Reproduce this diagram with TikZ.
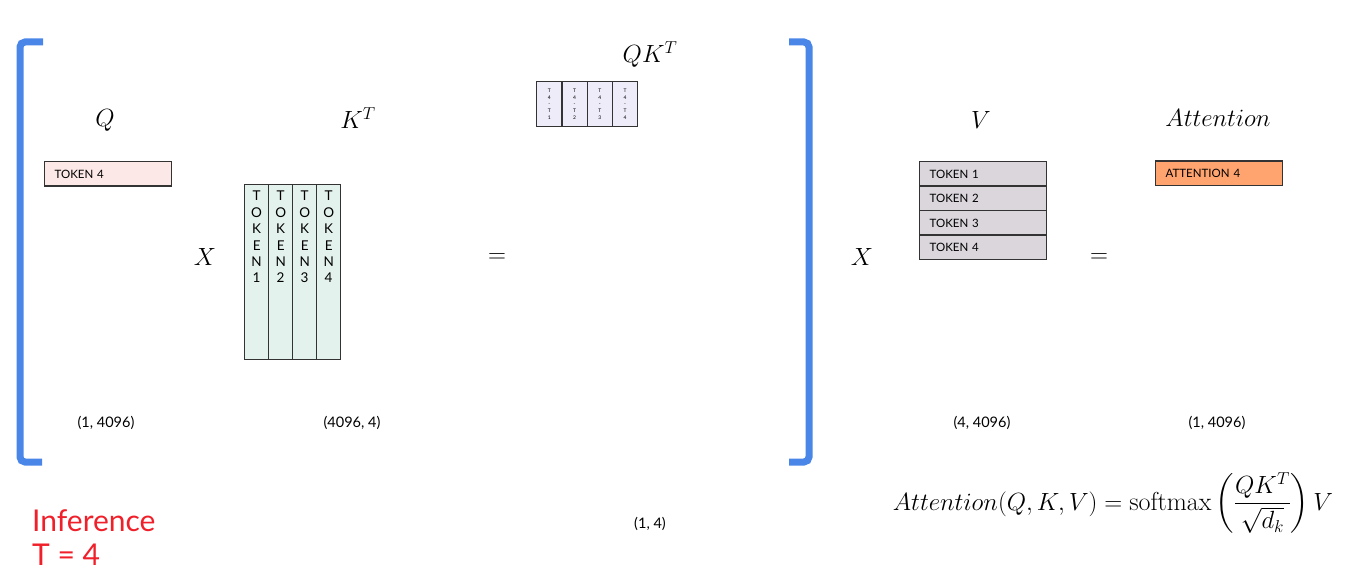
\documentclass[tikz,border=0pt]{standalone}
\usepackage{amsmath}
\usepackage{fontspec}
\setsansfont{Lato}
\usepackage{xcolor}
\usetikzlibrary{positioning}
\definecolor{bracketblue}{HTML}{4A86E8}
\definecolor{qpink}{HTML}{FCE8E6}
\definecolor{kgreen}{HTML}{E3F2ED}
\definecolor{qklilac}{HTML}{EFECFA}
\definecolor{vgray}{HTML}{DAD6DC}
\definecolor{attnorange}{HTML}{FFA46F}
\definecolor{cellborder}{HTML}{333333}
\definecolor{infred}{HTML}{F0202A}
\tikzset{every node/.append style={font=\sffamily}}

\begin{document}
\begin{tikzpicture}[x=1pt, y=-1pt,
    cell/.style={draw=cellborder, line width=1.3pt, inner sep=0pt, anchor=north west},
    rowcell/.style={cell, minimum height=24.5pt, inner xsep=10pt, text width=107pt, align=left, font=\sffamily\fontsize{11.5}{13}\selectfont},
    hdr/.style={font=\fontsize{25}{29}\selectfont},
    dimlabel/.style={font=\sffamily\fontsize{14.5}{16}\selectfont},
    bracket/.style={draw=bracketblue, line width=7pt, rounded corners=5pt}]
    \useasboundingbox (0,0) rectangle (1365,577);
    \draw[bracket] (43,42) -- (20,42) -- (20,462) -- (42,462);
    \draw[bracket] (789,42) -- (809,42) -- (809,462) -- (789,462);
    \node[hdr] (qhdr) at (105,120) {$Q$};
    \node[hdr] (khdr) at (358,118) {$K^T$};
    \node[hdr] (qkhdr) at (650,55) {$QK^T$};
    \node[hdr] (vhdr) at (981,120) {$V$};
    \node[hdr] (attnhdr) at (1218,118) {$Attention$};
    \node[rowcell, fill=qpink] (q4) at (44,161) {TOKEN 4};
    \foreach \i in {1,...,4} {
        \node[cell, fill=kgreen, minimum width=24pt, minimum height=175pt] (k\i) at ({244+24*(\i-1)},184) {};
        \node[below=7pt of k\i.north, inner sep=0pt, align=center, font=\sffamily\fontsize{13.5}{16.4}\selectfont] (kt\i) {T\\O\\K\\E\\N\\\i};
        \node[cell, fill=qklilac, minimum width=25.25pt, minimum height=45pt] (qk\i) at ({536+25.25*(\i-1)},81) {};
        \node[inner sep=0pt, align=center, font=\sffamily\fontsize{5}{6.6}\selectfont] (qkt\i) at (qk\i.center) {T\\4\\-\\T\\\i};
        \node[rowcell, fill=vgray] (v\i) at ({919},{161+24.5*(\i-1)}) {TOKEN \i};
    }
    \node[rowcell, fill=attnorange] (attn4) at (1155,160.5) {ATTENTION 4};
    \node[hdr] (times1) at (205,257) {$X$};
    \node[hdr] (eq1) at (497,258) {$=$};
    \node[hdr] (times2) at (862,257) {$X$};
    \node[hdr] (eq2) at (1099,258) {$=$};
    \node[dimlabel] (qdim) at (106,423) {(1, 4096)};
    \node[dimlabel] (kdim) at (352,423) {(4096, 4)};
    \node[dimlabel] (qkdim) at (650,524) {(1, 4)};
    \node[dimlabel] (vdim) at (982,423) {(4, 4096)};
    \node[dimlabel] (attndim) at (1217,423) {(1, 4096)};
    \node[font=\fontsize{26}{30}\selectfont] (formula) at (1113,503)
        {$Attention(Q,K,V)=\operatorname{softmax}\left(\dfrac{QK^T}{\sqrt{d_k}}\right)V$};
    \node[anchor=north west, inner sep=0pt, align=left, text=infred, font=\sffamily\fontsize{30}{34}\selectfont] (inference) at (32,509) {Inference\\T = 4};
\end{tikzpicture}
\end{document}
